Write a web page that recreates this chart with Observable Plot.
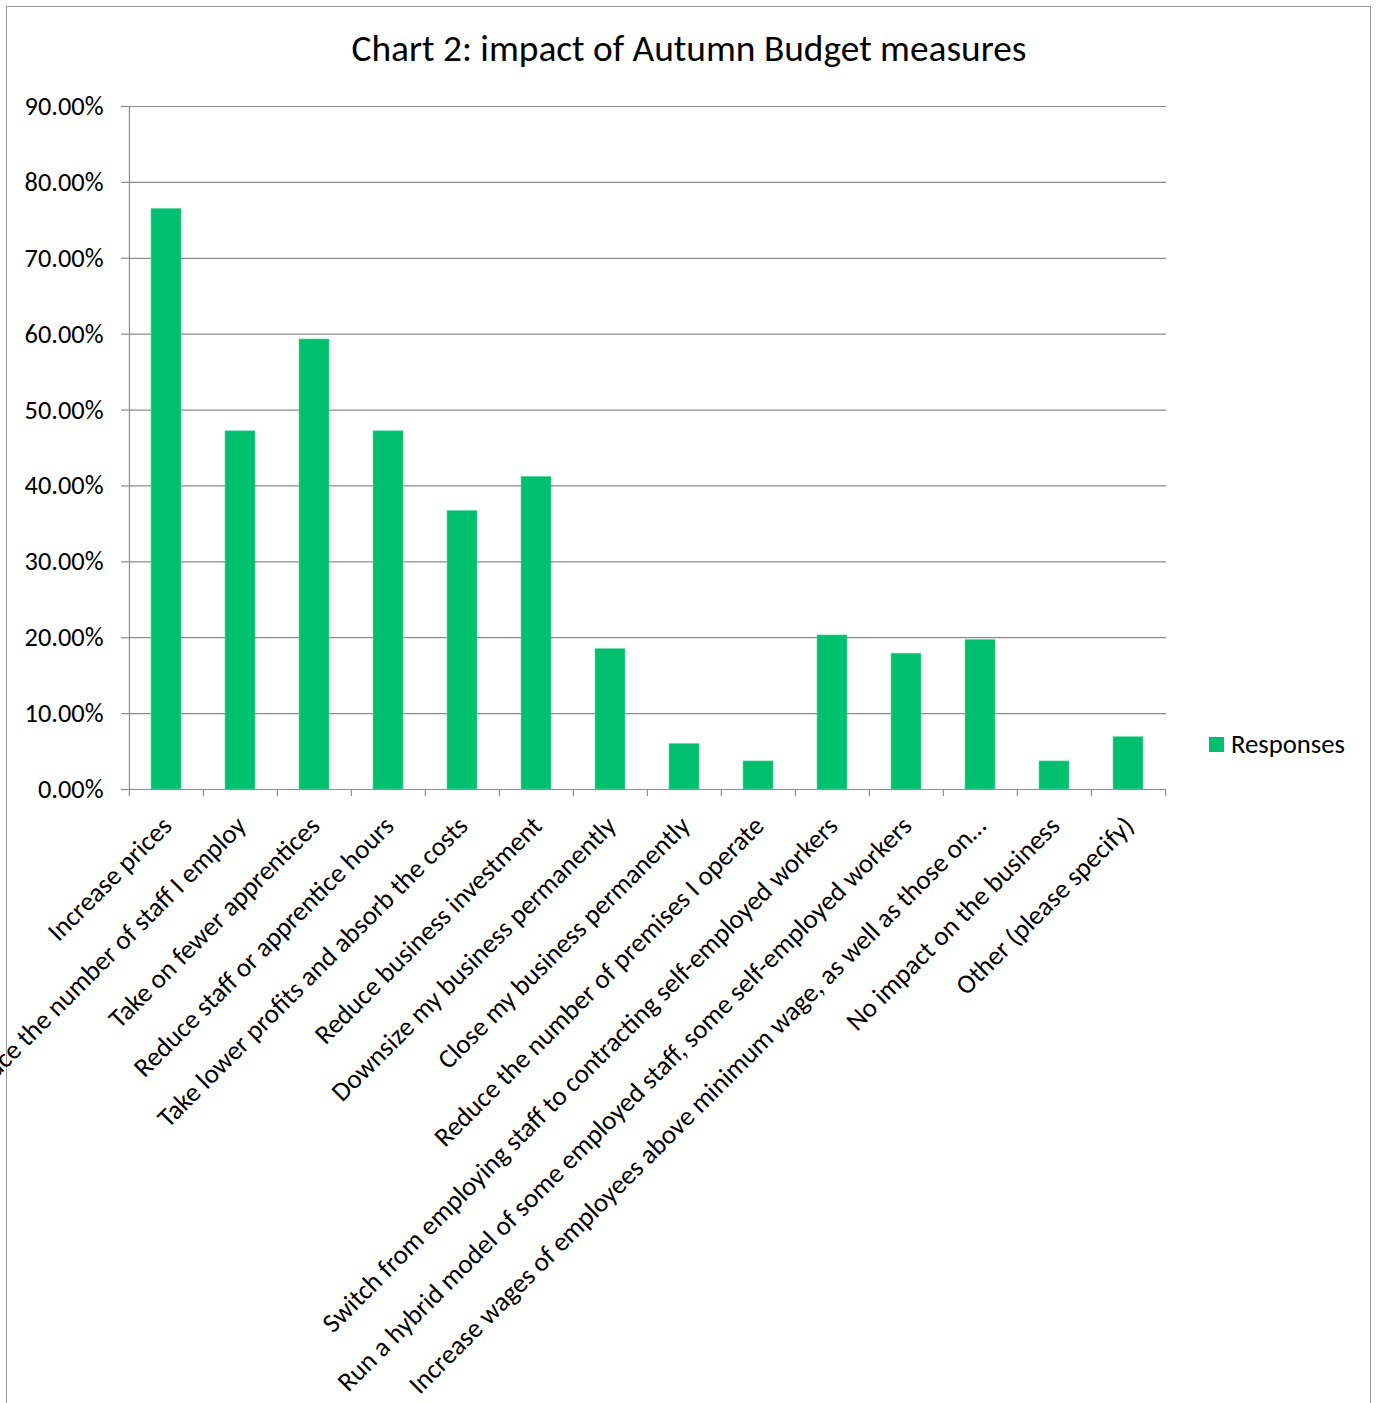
<!DOCTYPE html>
<html>
<head>
<meta charset="utf-8">
<script src="https://cdn.jsdelivr.net/npm/d3@7"></script>
<script src="https://cdn.jsdelivr.net/npm/@observablehq/plot@0.6"></script>
<style>
  html, body { margin: 0; padding: 0; background: #fff; }
  #wrap { position: relative; width: 1378px; height: 1403px; overflow: hidden; background: #fff; }
  #border { position: absolute; left: 6px; top: 6px; width: 1365px; height: 1500px; border: 1px solid #9a9a9a; box-sizing: border-box; }
  #title { position: absolute; left: 0; width: 1378px; text-align: center; color: #000; line-height: 1; white-space: nowrap; }
  #chart { position: absolute; left: 0; top: 0; }
  #legend { position: absolute; left: 1209px; top: 737px; display: flex; align-items: center; color: #000; white-space: nowrap; }
  #legend .sw { width: 15px; height: 15px; margin-right: 7px; }
</style>
</head>
<body>
<div id="wrap">
  <div id="border"></div>
  <div id="title"></div>
  <div id="chart"></div>
  <div id="legend"><span class="sw"></span><span class="lt"></span></div>
</div>
<script>
// ---- data ----
const titleText = "Chart 2: impact of Autumn Budget measures";
const seriesName = "Responses";
const categories = [
  "Increase prices",
  "Reduce the number of staff I employ",
  "Take on fewer apprentices",
  "Reduce staff or apprentice hours",
  "Take lower profits and absorb the costs",
  "Reduce business investment",
  "Downsize my business permanently",
  "Close my business permanently",
  "Reduce the number of premises I operate",
  "Switch from employing staff to contracting self-employed workers",
  "Run a hybrid model of some employed staff, some self-employed workers",
  "Increase wages of employees above minimum wage, as well as those on\u2026",
  "No impact on the business",
  "Other (please specify)"
];
const responses = [0.765, 0.472, 0.593, 0.472, 0.367, 0.412, 0.185, 0.060, 0.037, 0.203, 0.179, 0.197, 0.037, 0.069];
const yTicks = [0, 0.1, 0.2, 0.3, 0.4, 0.5, 0.6, 0.7, 0.8, 0.9];

// ---- styling ----
const FONT = "Calibri, Carlito, Lato, sans-serif";
const GREEN = "#00BF6F";
const GRID = "#8c8c8c";
const W = 1378, H = 1403;
const mL = 128, mR = 212, mT = 106, mB = 614;

// fit font sizes to widths seen in reference
const ctx = document.createElement("canvas").getContext("2d");
function fit(text, target) {
  ctx.font = `100px ${FONT}`;
  return 100 * target / ctx.measureText(text).width;
}
const titleSize = fit(titleText, 675);
const tickSize = fit("90.00%", 79);
const labelSize = fit(categories[10], 800);
const legendSize = fit(seriesName, 114);

const data = categories.map((c, i) => ({category: c, value: responses[i]}));
const step = (W - mL - mR) / categories.length;

const chart = Plot.plot({
  width: W,
  height: H,
  marginLeft: mL,
  marginRight: mR,
  marginTop: mT,
  marginBottom: mB,
  style: {background: "transparent", fontFamily: FONT, color: "#000", overflow: "visible"},
  x: {domain: categories, paddingInner: 0.6, paddingOuter: 0.3, axis: null},
  y: {domain: [0, 0.9]},
  marks: [
    Plot.gridY(yTicks, {stroke: GRID, strokeOpacity: 1, strokeWidth: 1.2}),
    Plot.axisY(yTicks, {
      tickSize: 7, tickPadding: 18, stroke: GRID, strokeWidth: 1.2,
      tickFormat: d3.format(".2%"), fontSize: tickSize, label: null, fill: "#000"
    }),
    Plot.barY(data, {x: "category", y: "value", fill: GREEN, stroke: "#5fd9a3", strokeWidth: 0.6}),
    Plot.ruleY([0], {stroke: GRID, strokeWidth: 1.2}),
    Plot.ruleX([categories[0]], {stroke: GRID, strokeWidth: 1.2, dx: -step / 2}),
    Plot.ruleX(categories, {x: d => d, y1: 0, y2: 0, insetBottom: -7, dx: -step / 2, stroke: GRID, strokeWidth: 1.2}),
    Plot.ruleX([categories[categories.length - 1]], {y1: 0, y2: 0, insetBottom: -7, dx: step / 2, stroke: GRID, strokeWidth: 1.2}),
    Plot.text(categories, {
      x: d => d, frameAnchor: "bottom", rotate: -45,
      textAnchor: "end", lineAnchor: "bottom",
      dx: 7, dy: 38, fontSize: labelSize, fill: "#000"
    })
  ]
});
document.getElementById("chart").appendChild(chart);

const t = document.getElementById("title");
t.textContent = titleText;
t.style.fontFamily = FONT;
t.style.fontSize = titleSize + "px";
t.style.top = (63 - 0.887 * titleSize) + "px";

const lg = document.getElementById("legend");
lg.style.fontFamily = FONT;
lg.style.fontSize = legendSize + "px";
lg.querySelector(".sw").style.background = GREEN;
lg.querySelector(".lt").textContent = seriesName;
lg.style.top = (744.5 - legendSize * 0.6) + "px";
lg.style.height = (legendSize * 1.2) + "px";
</script>
</body>
</html>
